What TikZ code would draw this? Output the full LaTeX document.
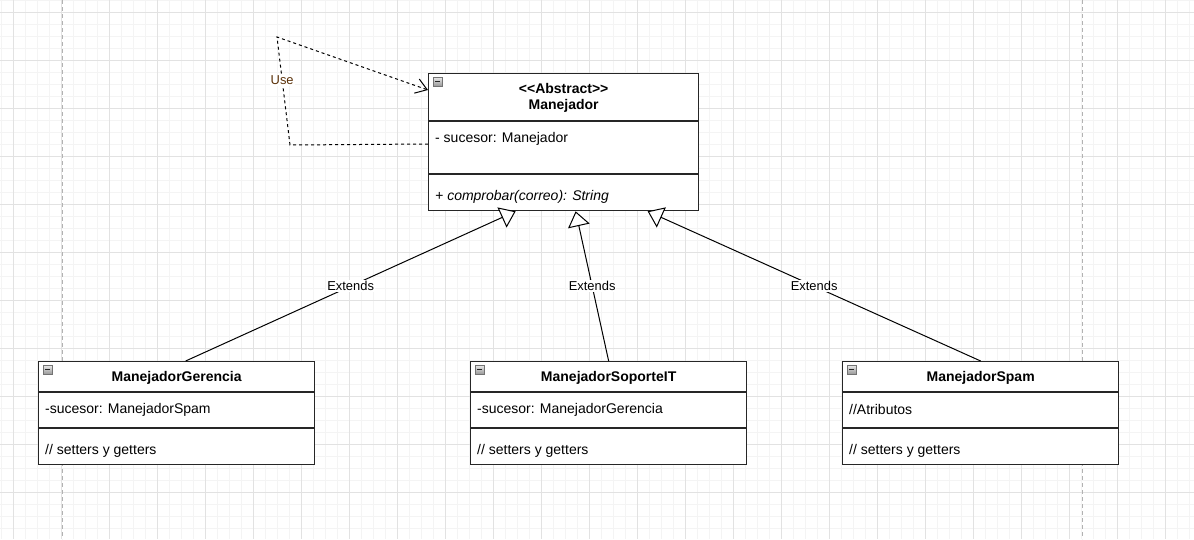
\documentclass[tikz,border=0pt]{standalone}
\usepackage{fontspec}
\setmainfont{Liberation Sans}
\usetikzlibrary{calc,arrows.meta}
\definecolor{minorgrid}{RGB}{244,244,244}
\definecolor{majorgrid}{RGB}{226,226,226}
\definecolor{uselabel}{RGB}{90,48,8}
\def\collapseicon(#1){\draw[draw=black!55, top color=black!8, bottom color=black!40] ($(#1)+(5,4)$) rectangle ($(#1)+(14,13)$); \draw[line width=1.2pt, black!85] ($(#1)+(7,8.5)$) -- ($(#1)+(12,8.5)$);}

\tikzset{
	classbox/.style={draw=black!85, line width=1.3pt, fill=white, rectangle, inner sep=0pt, anchor=north west},
	sepline/.style={draw=black!85, line width=1.3pt},
	titletext/.style={font=\fontsize{14}{16.5}\selectfont\bfseries, align=center, inner sep=0pt},
	membertext/.style={font=\fontsize{14}{16.5}\selectfont, anchor=west, inner sep=0pt},
	extends/.style={line width=1pt, -{Triangle[length=15pt, width=22pt, fill=white, line width=1pt]}},
	uses/.style={line width=1pt, dash pattern=on 3pt off 3pt, -{Straight Barb[length=11pt, width=15pt, line width=1pt]}},
	edgelabel/.style={font=\fontsize{12.9}{15}\selectfont, fill=white, inner sep=1pt},
	uselabel/.style={font=\fontsize{12.9}{15}\selectfont, text=uselabel, fill=white, inner sep=1pt}
}

\begin{document}
\begin{tikzpicture}[x=1pt, y=-1pt]
			%%%%% START %%%%%
			
			\useasboundingbox[fill=white] (0,0) rectangle (1194,539);
			
			% grid
			\foreach \gx in {1,13,...,1194} \draw[minorgrid, line width=0.8pt] (\gx,0) -- (\gx,539);
			\foreach \gy in {0,12,...,539} \draw[minorgrid, line width=0.8pt] (0,\gy) -- (1194,\gy);
			\foreach \gx in {13,61,...,1194} \draw[majorgrid, line width=0.8pt] (\gx,0) -- (\gx,539);
			\foreach \gy in {12,60,...,539} \draw[majorgrid, line width=0.8pt] (0,\gy) -- (1194,\gy);
			\draw[black!30, line width=0.8pt, dash pattern=on 4pt off 3pt] (62,0) -- (62,539);
			\draw[black!30, line width=0.8pt, dash pattern=on 4pt off 3pt] (1082,0) -- (1082,539);
			
			% Manejador
			\node[classbox, minimum width=270pt, minimum height=137pt] (manejador) at (428,73) {};
			\draw[sepline] ($(manejador.north west)+(0,48)$) -- ($(manejador.north east)+(0,48)$);
			\draw[sepline] ($(manejador.north west)+(0,101)$) -- ($(manejador.north east)+(0,101)$);
			\collapseicon(manejador.north west)
			\node[titletext] (manejador-title) at ($(manejador.north)+(0,25)$) {<\kern0pt<Abstract>\kern0pt>\\Manejador};
			\node[membertext] (manejador-attr) at ($(manejador.north west)+(7,66)$) {- sucesor: Manejador};
			\node[membertext] (manejador-op) at ($(manejador.north west)+(7,124)$) {\itshape + comprobar(correo): String};
			
			% ManejadorGerencia
			\node[classbox, minimum width=276pt, minimum height=103pt] (gerencia) at (38,361) {};
			\draw[sepline] ($(gerencia.north west)+(0,31)$) -- ($(gerencia.north east)+(0,31)$);
			\draw[sepline] ($(gerencia.north west)+(0,67)$) -- ($(gerencia.north east)+(0,67)$);
			\collapseicon(gerencia.north west)
			\node[titletext] (gerencia-title) at ($(gerencia.north)+(0,16.5)$) {ManejadorGerencia};
			\node[membertext] (gerencia-attr) at ($(gerencia.north west)+(7,48.5)$) {-sucesor: ManejadorSpam};
			\node[membertext] (gerencia-op) at ($(gerencia.north west)+(7,89.5)$) {// setters y getters};
			
			% ManejadorSoporteIT
			\node[classbox, minimum width=276pt, minimum height=103pt] (soporte) at (470,361) {};
			\draw[sepline] ($(soporte.north west)+(0,31)$) -- ($(soporte.north east)+(0,31)$);
			\draw[sepline] ($(soporte.north west)+(0,67)$) -- ($(soporte.north east)+(0,67)$);
			\collapseicon(soporte.north west)
			\node[titletext] (soporte-title) at ($(soporte.north)+(0,16.5)$) {ManejadorSoporteIT};
			\node[membertext] (soporte-attr) at ($(soporte.north west)+(7,48.5)$) {-sucesor: ManejadorGerencia};
			\node[membertext] (soporte-op) at ($(soporte.north west)+(7,89.5)$) {// setters y getters};
			
			% ManejadorSpam
			\node[classbox, minimum width=276pt, minimum height=103pt] (spam) at (842,361) {};
			\draw[sepline] ($(spam.north west)+(0,31)$) -- ($(spam.north east)+(0,31)$);
			\draw[sepline] ($(spam.north west)+(0,67)$) -- ($(spam.north east)+(0,67)$);
			\collapseicon(spam.north west)
			\node[titletext] (spam-title) at ($(spam.north)+(0,16.5)$) {ManejadorSpam};
			\node[membertext] (spam-attr) at ($(spam.north west)+(7,48.5)$) {//Atributos};
			\node[membertext] (spam-op) at ($(spam.north west)+(7,89.5)$) {// setters y getters};
			
			% Extends
			\draw[extends] ($(gerencia.north)+(9,0)$) -- node[edgelabel] {Extends} ($(manejador.south)+(-48,0)$);
			\draw[extends] (soporte.north) -- node[edgelabel] {Extends} ($(manejador.south)+(12,0)$);
			\draw[extends] (spam.north) -- node[edgelabel] {Extends} ($(manejador.south)+(84,0)$);
			
			% Use
			\coordinate (use-start) at ($(manejador.north west)+(0,71)$);
			\coordinate (use-low) at (290,145);
			\coordinate (use-high) at (277,37);
			\coordinate (use-end) at ($(manejador.north west)+(0,17)$);
			\draw[uses] (use-start) -- (use-low) -- node[uselabel, pos=0.6] {Use} (use-high) -- (use-end);
			
			%%%%% END %%%%%
		\end{tikzpicture}
\end{document}
